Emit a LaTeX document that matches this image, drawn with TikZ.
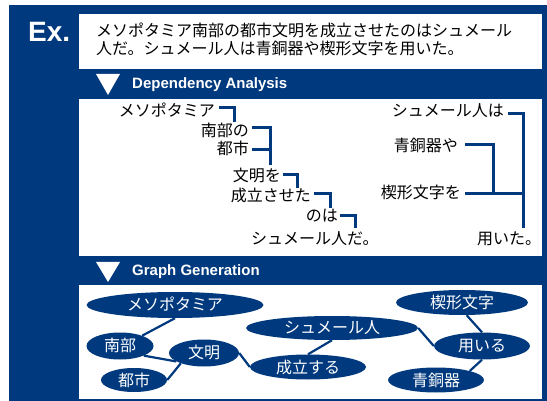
\documentclass[tikz,border=0pt]{standalone}
\usepackage{fontspec}
\setmainfont{Liberation Sans}
\newfontfamily\jp{Noto Sans CJK JP}
\usetikzlibrary{shapes.geometric,calc}
\definecolor{navy}{RGB}{0,57,125}
\begin{document}
\begin{tikzpicture}[x=1pt,y=-1pt,
  jtext/.style={inner sep=0pt, font=\jp\fontsize{16}{19}\selectfont, text height=13pt, text depth=3pt},
  depw/.style={jtext, anchor=east},
  br/.style={draw=navy, line width=3pt, line join=miter},
  gnode/.style={ellipse, fill=navy, text=white, inner sep=0pt, font=\jp\fontsize{16}{19}\selectfont, text height=13pt, text depth=1pt},
  gedge/.style={draw=navy, line width=2.2pt},
  head/.style={text=white, font=\bfseries\fontsize{15}{18}\selectfont, anchor=west, inner sep=0pt}
]
\useasboundingbox (0,0) rectangle (547,401);
\fill[navy] (9,5) rectangle (547,401);
\fill[white] (79,14) rectangle (542,69);
\fill[white] (79,99) rectangle (542,256);
\fill[white] (79,285) rectangle (542,398.5);

\node[text=white, font=\bfseries\fontsize{28}{30}\selectfont, anchor=west, inner sep=0pt] (ex) at (28,32) {Ex.};
\node[jtext, anchor=west] (s1) at (96,32) {メソポタミア南部の都市文明を成立させたのはシュメール};
\node[jtext, anchor=west] (s2) at (96,50) {人だ。シュメール人は青銅器や楔形文字を用いた。};

\fill[white] (96,74) -- (120,74) -- (108,95) -- cycle;
\node[head] (hdep) at (132,85) {Dependency Analysis};
\fill[white] (96,262) -- (120,262) -- (108,282) -- cycle;
\node[head] (hgraph) at (132,272) {Graph Generation};

% dependency analysis
\node[depw] (w1) at (215,112) {メソポタミア};
\node[depw] (w2) at (249,132) {南部の};
\node[depw] (w3) at (249,150) {都市};
\node[depw] (w4) at (281,177) {文明を};
\node[depw] (w5) at (311,197) {成立させた};
\node[depw] (w6) at (338,217) {のは};
\node[jtext, anchor=west] (w7) at (251,240) {シュメール人だ。};
\node[depw] (r1) at (504,112) {シュメール人は};
\node[depw] (r2) at (458,147) {青銅器や};
\node[depw] (r3) at (461,194) {楔形文字を};
\node[jtext, anchor=west] (r4) at (477,240) {用いた。};

\draw[br] ([shift={(4,-4)}]w1.east) -| ([shift={(-15,-2)}]w2.north east);
\draw[br] ([shift={(3,-4)}]w2.east) -| ([shift={(-11,-4)}]w4.north east);
\draw[br] ([xshift=3pt]w3.east) -- ($(w3.east -| w4.north east)+(-10,0)$);
\draw[br] ([shift={(2,-2)}]w4.east) -| ([shift={(-14,-1)}]w5.north east);
\draw[br] ([shift={(3,-3)}]w5.east) -| ([shift={(-8,-1)}]w6.north east);
\draw[br] ([shift={(2,-1)}]w6.east) -| ($(w7.north west)+(104,-4)$);
\draw[br] ([shift={(4,2)}]r1.east) -| ($(r4.north west)+(46,-4)$);
\draw[br] ([shift={(7,-2)}]r2.east) -| ($(r3.east)+(32,0)$);
\draw[br] ([xshift=4pt]r3.east) -- ($(r3.east)+(63,0)$);

% graph generation
\node[gnode, minimum width=177pt, minimum height=26pt] (g1) at (175,305) {メソポタミア};
\node[gnode, minimum width=132pt, minimum height=25pt] (g2) at (462,302.5) {楔形文字};
\node[gnode, minimum width=172pt, minimum height=24pt] (g3) at (332,328) {シュメール人};
\node[gnode, minimum width=67pt, minimum height=27pt] (g4) at (120,346) {南部};
\node[gnode, minimum width=70pt, minimum height=27pt] (g5) at (204,353) {文明};
\node[gnode, minimum width=96pt, minimum height=27pt] (g6) at (482,346) {用いる};
\node[gnode, minimum width=116pt, minimum height=25pt] (g7) at (308,367) {成立する};
\node[gnode, minimum width=66pt, minimum height=24pt] (g8) at (134,380) {都市};
\node[gnode, minimum width=96pt, minimum height=25pt] (g9) at (436,380) {青銅器};

\draw[gedge] (g1.south) -- (g4.25);
\draw[gedge] (g4.338) -- (g5.197);
\draw[gedge] (g8.east) -- (g5.204);
\draw[gedge] (g5.east) -- (g7.west);
\draw[gedge] (g7.north) -- (g3.south);
\draw[gedge] (g3.east) -- (g6.west);
\draw[gedge] (g2.290) -- (g6.north);
\draw[gedge] (g6.south) -- (g9.15);
\end{tikzpicture}
\end{document}
